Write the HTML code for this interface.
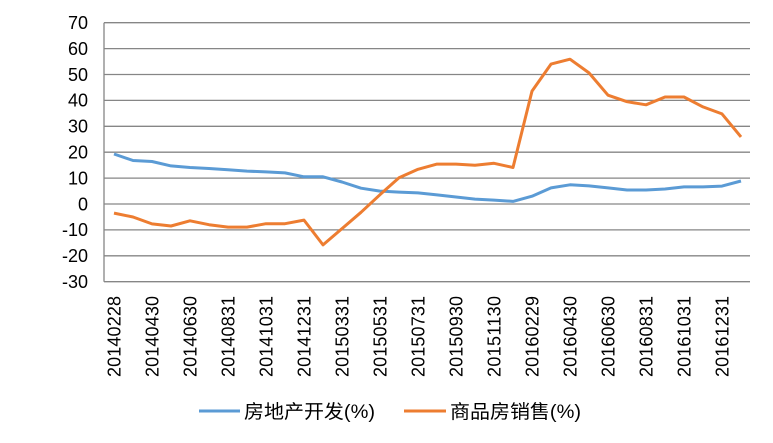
<!DOCTYPE html>
<html><head><meta charset="utf-8"><style>
html,body{margin:0;padding:0;background:#fff;}
svg{display:block;font-family:"Liberation Sans","Noto Sans CJK SC",sans-serif;}
</style></head><body>
<svg width="773" height="443" viewBox="0 0 773 443" xmlns="http://www.w3.org/2000/svg">
<g stroke="#868686" stroke-width="1.3">
<line x1="104" y1="22.7" x2="750" y2="22.7"/>
<line x1="104" y1="48.6" x2="750" y2="48.6"/>
<line x1="104" y1="74.5" x2="750" y2="74.5"/>
<line x1="104" y1="100.4" x2="750" y2="100.4"/>
<line x1="104" y1="126.3" x2="750" y2="126.3"/>
<line x1="104" y1="152.2" x2="750" y2="152.2"/>
<line x1="104" y1="178.1" x2="750" y2="178.1"/>
<line x1="104" y1="204" x2="750" y2="204"/>
<line x1="104" y1="229.9" x2="750" y2="229.9"/>
<line x1="104" y1="255.8" x2="750" y2="255.8"/>
<line x1="104" y1="281.7" x2="750" y2="281.7"/>
<line x1="104" y1="22.7" x2="104" y2="281.7"/>
</g>
<g font-size="18" fill="#000" text-anchor="end">
<text x="88" y="29">70</text>
<text x="88" y="54.9">60</text>
<text x="88" y="80.8">50</text>
<text x="88" y="106.7">40</text>
<text x="88" y="132.6">30</text>
<text x="88" y="158.5">20</text>
<text x="88" y="184.4">10</text>
<text x="88" y="210.3">0</text>
<text x="88" y="236.2">-10</text>
<text x="88" y="262.1">-20</text>
<text x="88" y="288">-30</text>
</g>
<g font-size="18" fill="#000" text-anchor="end">
<text transform="translate(120.5,296) rotate(-90)" textLength="81">20140228</text>
<text transform="translate(158.5,296) rotate(-90)" textLength="81">20140430</text>
<text transform="translate(196.5,296) rotate(-90)" textLength="81">20140630</text>
<text transform="translate(234.5,296) rotate(-90)" textLength="81">20140831</text>
<text transform="translate(272.5,296) rotate(-90)" textLength="81">20141031</text>
<text transform="translate(310.5,296) rotate(-90)" textLength="81">20141231</text>
<text transform="translate(348.5,296) rotate(-90)" textLength="81">20150331</text>
<text transform="translate(386.5,296) rotate(-90)" textLength="81">20150531</text>
<text transform="translate(424.5,296) rotate(-90)" textLength="81">20150731</text>
<text transform="translate(462.5,296) rotate(-90)" textLength="81">20150930</text>
<text transform="translate(500.5,296) rotate(-90)" textLength="81">20151130</text>
<text transform="translate(538.5,296) rotate(-90)" textLength="81">20160229</text>
<text transform="translate(576.5,296) rotate(-90)" textLength="81">20160430</text>
<text transform="translate(614.5,296) rotate(-90)" textLength="81">20160630</text>
<text transform="translate(652.5,296) rotate(-90)" textLength="81">20160831</text>
<text transform="translate(690.5,296) rotate(-90)" textLength="81">20161031</text>
<text transform="translate(728.5,296) rotate(-90)" textLength="81">20161231</text>
</g>
<polyline fill="none" stroke="#5B9BD5" stroke-width="3" stroke-linejoin="round" points="114,154.0 133,160.5 152,161.5 171,165.9 190,167.5 209,168.5 228,169.8 247,171.1 266,171.9 285,172.9 304,176.8 323,176.8 342,182.0 361,188.2 380,191.1 399,192.1 418,192.9 437,194.9 456,197.0 475,199.1 494,200.1 513,201.4 532,196.2 551,187.9 570,184.8 589,185.9 608,187.9 627,190.0 646,190.0 665,189.0 684,186.9 703,186.9 722,186.1 741,181.0"/>
<polyline fill="none" stroke="#ED7D31" stroke-width="3" stroke-linejoin="round" points="114,213.1 133,217.0 152,223.9 171,226.0 190,220.8 209,224.7 228,227.1 247,227.1 266,223.7 285,223.7 304,220.1 323,244.9 342,228.6 361,212.3 380,194.7 399,177.8 418,169.3 437,164.1 456,164.1 475,165.2 494,163.3 513,167.5 532,91.1 551,64.1 570,59.2 589,72.9 608,95.2 627,101.7 646,104.8 665,97.0 684,97.0 703,106.9 722,113.9 741,136.9"/>
<line x1="199" y1="411" x2="240" y2="411" stroke="#5B9BD5" stroke-width="3"/>
<text x="244" y="418" font-size="19" textLength="131" lengthAdjust="spacingAndGlyphs">房地产开发(%)</text>
<line x1="404" y1="411" x2="446" y2="411" stroke="#ED7D31" stroke-width="3"/>
<text x="450" y="418" font-size="19" textLength="131" lengthAdjust="spacingAndGlyphs">商品房销售(%)</text>
</svg>
</body></html>
